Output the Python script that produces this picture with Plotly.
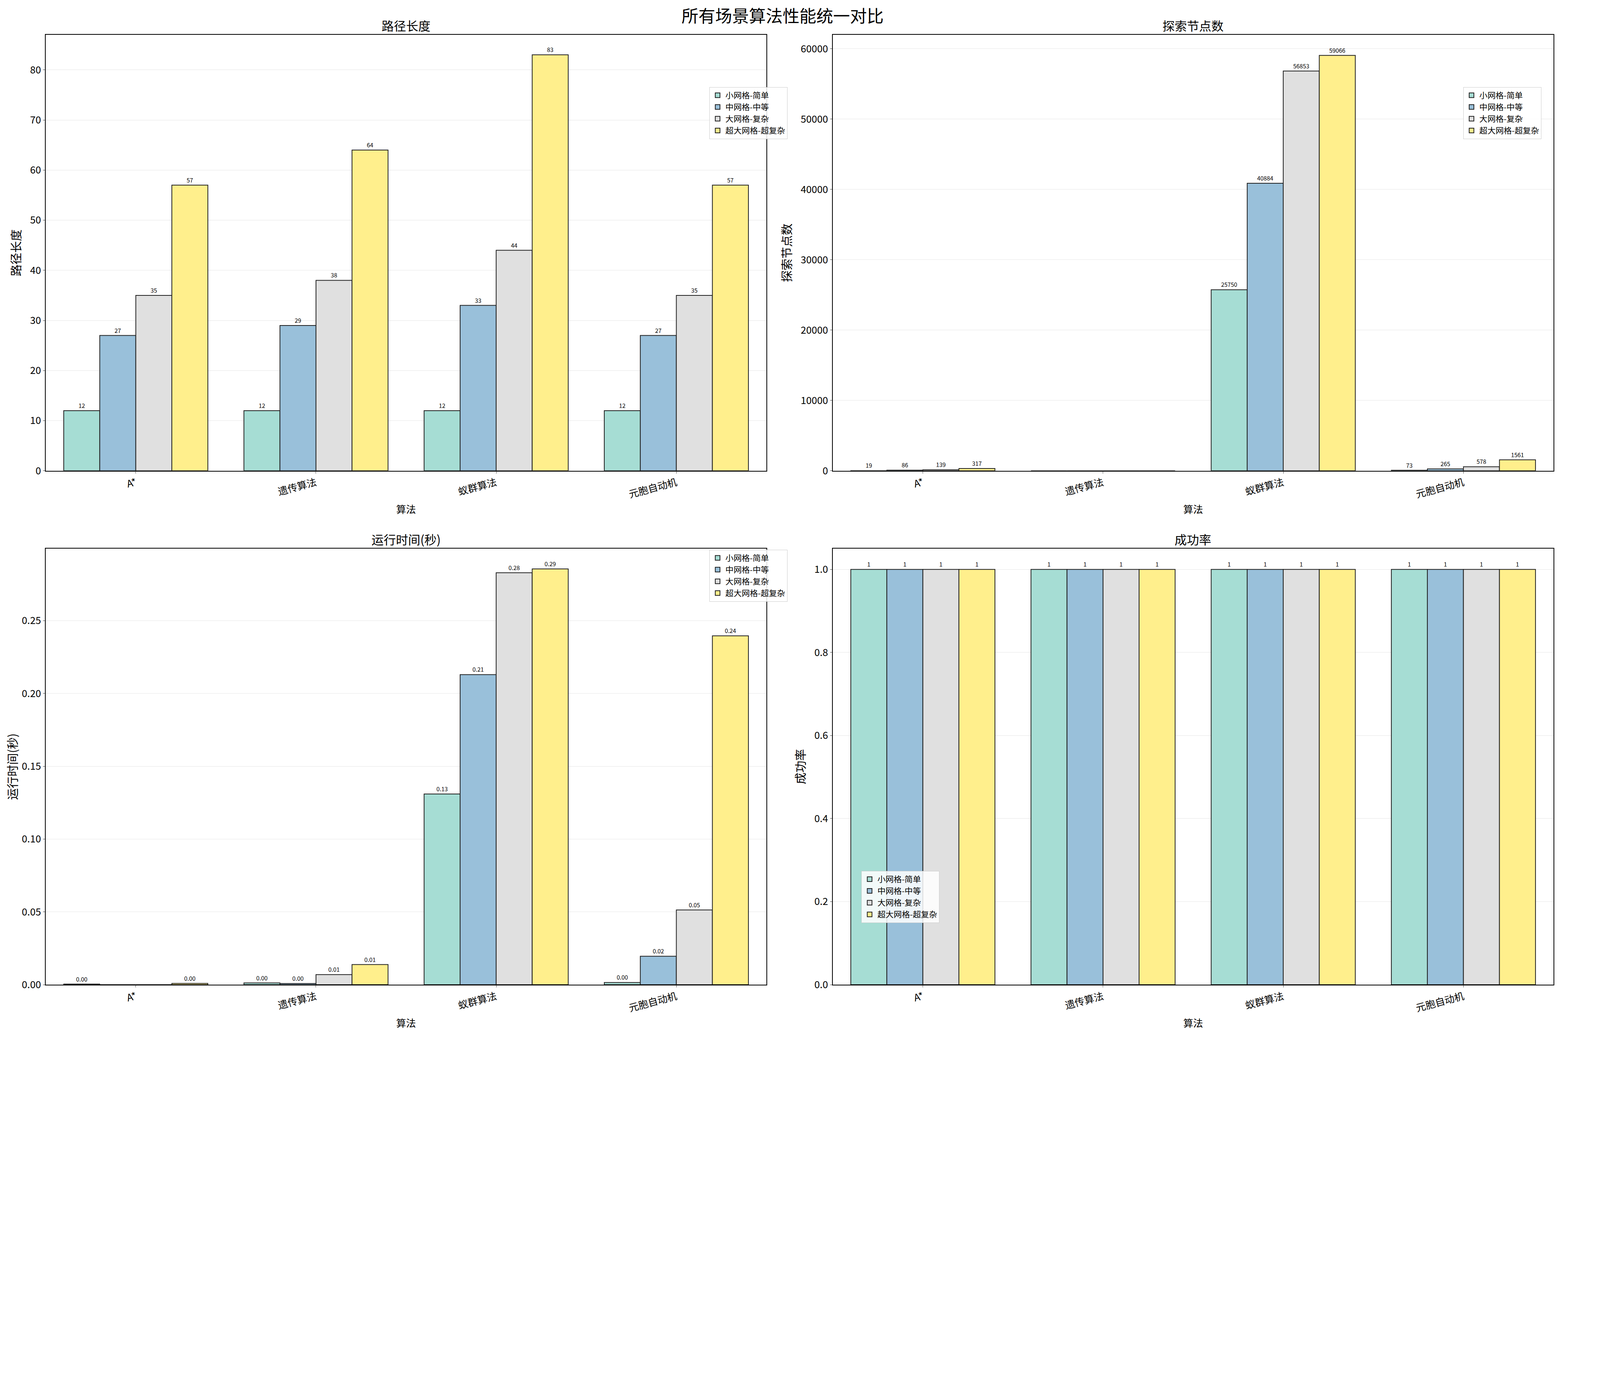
import plotly.graph_objects as go
from plotly.subplots import make_subplots

algorithms = ["A*", "遗传算法", "蚁群算法", "元胞自动机"]
scenarios = ["小网格-简单", "中网格-中等", "大网格-复杂", "超大网格-超复杂"]
colors = ["#a6ddd4", "#99c0da", "#e0e0e0", "#ffef8c"]

# values per scenario, ordered by algorithm
pathLength = [[12, 12, 12, 12], [27, 29, 33, 27], [35, 38, 44, 35], [57, 64, 83, 57]]
nodesExplored = [[19, 0, 25750, 73], [86, 0, 40884, 265], [139, 0, 56853, 578], [317, 0, 59066, 1561]]
runTime = [[0.0004, 0.0012, 0.131, 0.0015], [0.0, 0.0008, 0.213, 0.0195],
           [0.0, 0.0069, 0.283, 0.0513], [0.0009, 0.0138, 0.2856, 0.2396]]
successRate = [[1, 1, 1, 1], [1, 1, 1, 1], [1, 1, 1, 1], [1, 1, 1, 1]]

titles = ["路径长度", "探索节点数", "运行时间(秒)", "成功率"]
k = 1 / 1.345  # page is rendered with device scaling
fs = 34 * k

fig = make_subplots(rows=2, cols=2, subplot_titles=titles,
                    horizontal_spacing=0.044, vertical_spacing=0.082)

def label(v, kind):
    if kind == "time":
        return "" if v == 0 else f"{v:.2f}"
    if kind == "nodes":
        return "" if v == 0 else str(v)
    return str(v)

panels = [(pathLength, 1, 1, "int", "legend"), (nodesExplored, 1, 2, "nodes", "legend2"),
          (runTime, 2, 1, "time", "legend3"), (successRate, 2, 2, "int", "legend4")]

for data, r, c, kind, leg in panels:
    for i, name in enumerate(scenarios):
        fig.add_trace(go.Bar(x=algorithms, y=data[i], name=name, legend=leg,
                             marker=dict(color=colors[i], line=dict(color="#222", width=2)),
                             text=[label(v, kind) for v in data[i]], textposition="outside",
                             textfont=dict(size=20 * k), cliponaxis=False),
                      row=r, col=c)

fig.update_layout(
    width=int(5369 * k), height=int(3542 * k), barmode="group", bargap=0.2, bargroupgap=0,
    plot_bgcolor="white", paper_bgcolor="white",
    font=dict(family="Noto Sans CJK SC", size=fs, color="black"),
    title=dict(text="所有场景算法性能统一对比", x=0.5, y=0.993, font=dict(size=58 * k)),
    margin=dict(l=int(130 * k), r=int(30 * k), t=int(110 * k), b=int(60 * k)),
)
legstyle = dict(bgcolor="rgba(255,255,255,0.85)", bordercolor="#ccc", borderwidth=1,
                font=dict(size=28 * k), xanchor="right", yanchor="top")
fig.update_layout(
    legend=dict(x=0.492, y=0.945, **legstyle),
    legend2=dict(x=0.992, y=0.945, **legstyle),
    legend3=dict(x=0.492, y=0.458, **legstyle),
    legend4=dict(x=0.541, y=0.065, **{**legstyle, "xanchor": "left", "yanchor": "bottom"}),
)
fig.update_xaxes(showline=True, linecolor="black", linewidth=2, mirror=True, ticks="outside",
                 tickangle=-15, tickfont=dict(size=fs), title_text="算法", title_font=dict(size=fs))
fig.update_yaxes(showline=True, linecolor="black", linewidth=2, mirror=True, ticks="outside",
                 showgrid=True, gridcolor="#e6e6e6", zeroline=False, tickfont=dict(size=fs))
fig.update_yaxes(title_text="路径长度", range=[0, 87], dtick=10, row=1, col=1)
fig.update_yaxes(title_text="探索节点数", range=[0, 62000], dtick=10000, tickformat="d", row=1, col=2)
fig.update_yaxes(title_text="运行时间(秒)", range=[0, 0.2995], dtick=0.05, tickformat=".2f", row=2, col=1)
fig.update_yaxes(title_text="成功率", range=[0, 1.05], dtick=0.2, tickformat=".1f", row=2, col=2)
for a in fig.layout.annotations:
    a.font = dict(size=42 * k)

fig.write_html("out.html")
